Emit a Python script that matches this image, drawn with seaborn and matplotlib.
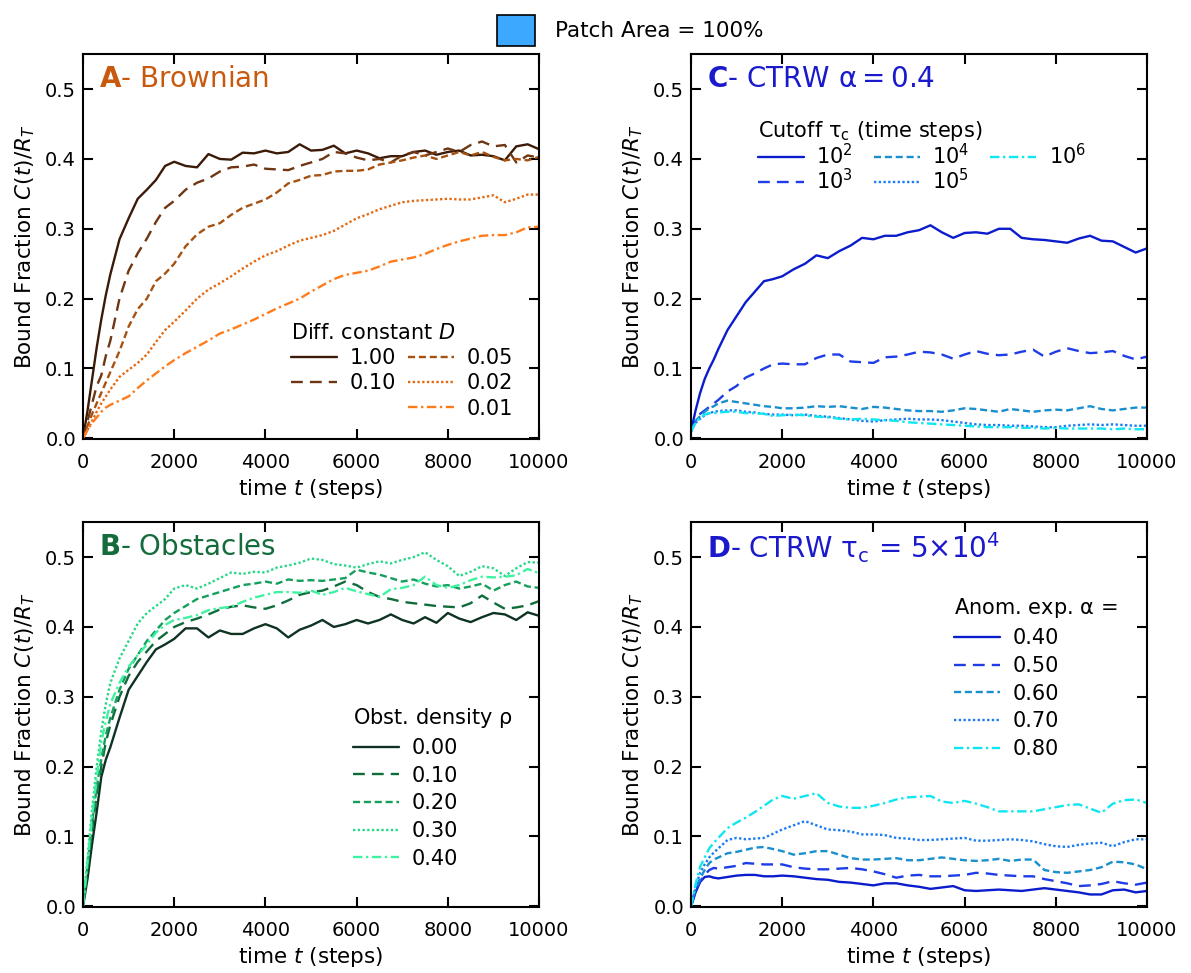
import matplotlib
matplotlib.use('Agg')
import matplotlib.pyplot as plt
import seaborn as sns
from matplotlib.lines import Line2D
from matplotlib.patches import Patch

# -----------------------------------------------------------------------------
# data
# -----------------------------------------------------------------------------
T = [0, 100, 200, 300, 400, 500, 600, 800, 1000, 1200, 1400, 1600, 1800, 2000,
     2250, 2500, 2750, 3000, 3250, 3500, 3750, 4000, 4250, 4500, 4750, 5000,
     5250, 5500, 5750, 6000, 6250, 6500, 6750, 7000, 7250, 7500, 7750, 8000,
     8250, 8500, 8750, 9000, 9250, 9500, 9750, 10000]

# Panel A - Brownian, diffusion constant D
brown_labels = ['1.00', '0.10', '0.05', '0.02', '0.01']
brown_100 = [0.0, 0.04, 0.085, 0.13, 0.17, 0.205, 0.235, 0.285, 0.315, 0.343, 0.356, 0.37, 0.39, 0.396,
             0.39, 0.388, 0.407, 0.400, 0.399, 0.409, 0.408, 0.412, 0.408, 0.41, 0.421, 0.412,
             0.413, 0.419, 0.408, 0.412, 0.408, 0.401, 0.404, 0.404, 0.41, 0.412, 0.406, 0.41,
             0.412, 0.405, 0.406, 0.404, 0.398, 0.418, 0.421, 0.414]
brown_010 = [0.0, 0.025, 0.05, 0.075, 0.09, 0.118, 0.14, 0.2, 0.24, 0.265, 0.286, 0.31, 0.33, 0.34,
             0.356, 0.366, 0.372, 0.382, 0.388, 0.389, 0.392, 0.386, 0.385, 0.384, 0.39, 0.395,
             0.40, 0.41, 0.408, 0.402, 0.398, 0.40, 0.395, 0.405, 0.41, 0.405, 0.41, 0.415,
             0.41, 0.42, 0.425, 0.418, 0.42, 0.395, 0.405, 0.402]
brown_005 = [0.0, 0.018, 0.035, 0.05, 0.065, 0.08, 0.095, 0.125, 0.16, 0.185, 0.2, 0.225, 0.236, 0.25,
             0.275, 0.292, 0.303, 0.308, 0.32, 0.33, 0.336, 0.342, 0.352, 0.365, 0.37, 0.376,
             0.377, 0.382, 0.383, 0.383, 0.385, 0.392, 0.395, 0.398, 0.402, 0.405, 0.40, 0.405,
             0.41, 0.405, 0.41, 0.403, 0.398, 0.40, 0.398, 0.403]
brown_002 = [0.0, 0.012, 0.025, 0.038, 0.05, 0.06, 0.07, 0.088, 0.098, 0.108, 0.12, 0.138, 0.155, 0.167,
             0.183, 0.2, 0.213, 0.222, 0.232, 0.243, 0.253, 0.262, 0.268, 0.276, 0.283, 0.287,
             0.291, 0.297, 0.306, 0.315, 0.321, 0.328, 0.333, 0.338, 0.34, 0.341, 0.342, 0.343,
             0.342, 0.342, 0.345, 0.348, 0.338, 0.343, 0.349, 0.349]
brown_001 = [0.0, 0.012, 0.022, 0.03, 0.038, 0.044, 0.048, 0.054, 0.06, 0.072, 0.083, 0.093, 0.103, 0.112,
             0.122, 0.131, 0.14, 0.15, 0.156, 0.163, 0.17, 0.178, 0.186, 0.193, 0.2, 0.21,
             0.219, 0.228, 0.234, 0.237, 0.24, 0.246, 0.253, 0.256, 0.259, 0.264, 0.271, 0.277,
             0.282, 0.286, 0.29, 0.291, 0.291, 0.295, 0.302, 0.303]

# Panel B - obstacles, density rho
obst_labels = ['0.00', '0.10', '0.20', '0.30', '0.40']
obst_000 = [0.0, 0.04, 0.09, 0.135, 0.185, 0.21, 0.228, 0.27, 0.31, 0.33, 0.35, 0.368, 0.375, 0.383,
            0.398, 0.398, 0.385, 0.395, 0.39, 0.39, 0.398, 0.404, 0.398, 0.385, 0.396, 0.402,
            0.41, 0.40, 0.404, 0.41, 0.405, 0.41, 0.418, 0.41, 0.405, 0.414, 0.406, 0.42,
            0.412, 0.407, 0.414, 0.42, 0.418, 0.41, 0.421, 0.416]
obst_010 = [0.0, 0.055, 0.11, 0.16, 0.2, 0.235, 0.26, 0.3, 0.33, 0.35, 0.365, 0.38, 0.39, 0.4,
            0.407, 0.412, 0.418, 0.425, 0.429, 0.431, 0.428, 0.426, 0.431, 0.438, 0.446, 0.45,
            0.452, 0.458, 0.465, 0.46, 0.45, 0.443, 0.44, 0.436, 0.434, 0.432, 0.43, 0.429,
            0.428, 0.434, 0.445, 0.435, 0.426, 0.428, 0.431, 0.437]
obst_020 = [0.0, 0.06, 0.12, 0.17, 0.21, 0.245, 0.27, 0.31, 0.34, 0.36, 0.38, 0.395, 0.41, 0.42,
            0.43, 0.44, 0.445, 0.45, 0.455, 0.46, 0.462, 0.465, 0.462, 0.468, 0.466, 0.467,
            0.466, 0.468, 0.47, 0.482, 0.478, 0.475, 0.47, 0.465, 0.468, 0.462, 0.458, 0.46,
            0.455, 0.458, 0.462, 0.452, 0.46, 0.465, 0.458, 0.456]
obst_030 = [0.0, 0.07, 0.14, 0.2, 0.25, 0.29, 0.32, 0.355, 0.38, 0.405, 0.42, 0.43, 0.44, 0.455,
            0.46, 0.455, 0.462, 0.47, 0.478, 0.476, 0.479, 0.478, 0.485, 0.488, 0.492, 0.498,
            0.496, 0.49, 0.488, 0.485, 0.49, 0.494, 0.491, 0.496, 0.5, 0.507, 0.496, 0.487,
            0.473, 0.479, 0.487, 0.484, 0.473, 0.484, 0.493, 0.492]
obst_040 = [0.0, 0.065, 0.13, 0.185, 0.235, 0.265, 0.29, 0.32, 0.343, 0.36, 0.375, 0.392, 0.403, 0.41,
            0.413, 0.417, 0.424, 0.427, 0.429, 0.436, 0.442, 0.446, 0.45, 0.45, 0.449, 0.452,
            0.446, 0.45, 0.456, 0.451, 0.447, 0.443, 0.454, 0.456, 0.46, 0.472, 0.46, 0.456,
            0.46, 0.467, 0.472, 0.471, 0.472, 0.474, 0.483, 0.477]

# Panel C - CTRW alpha = 0.4, cutoff tau_c
cut_labels = ['$10^2$', '$10^3$', '$10^4$', '$10^5$', '$10^6$']
cut_1e2 = [0.01, 0.04, 0.065, 0.085, 0.1, 0.113, 0.128, 0.155, 0.175, 0.195, 0.21, 0.225, 0.228, 0.232,
           0.242, 0.25, 0.262, 0.258, 0.268, 0.276, 0.287, 0.285, 0.29, 0.29, 0.295, 0.298,
           0.305, 0.295, 0.287, 0.294, 0.295, 0.293, 0.3, 0.3, 0.287, 0.285, 0.284, 0.282,
           0.28, 0.286, 0.29, 0.283, 0.282, 0.274, 0.266, 0.272]
cut_1e3 = [0.01, 0.025, 0.035, 0.04, 0.045, 0.05, 0.055, 0.067, 0.075, 0.087, 0.093, 0.1, 0.106, 0.107,
           0.106, 0.106, 0.115, 0.12, 0.12, 0.11, 0.109, 0.108, 0.116, 0.117, 0.12, 0.124,
           0.123, 0.12, 0.114, 0.12, 0.125, 0.121, 0.119, 0.12, 0.124, 0.127, 0.117, 0.124,
           0.129, 0.125, 0.122, 0.123, 0.125, 0.118, 0.113, 0.117]
cut_1e4 = [0.01, 0.025, 0.032, 0.038, 0.043, 0.046, 0.05, 0.054, 0.052, 0.05, 0.048, 0.046, 0.045, 0.043,
           0.043, 0.044, 0.046, 0.045, 0.046, 0.044, 0.042, 0.045, 0.044, 0.042, 0.04, 0.039,
           0.039, 0.038, 0.04, 0.043, 0.042, 0.04, 0.038, 0.042, 0.04, 0.038, 0.04, 0.041,
           0.04, 0.043, 0.046, 0.042, 0.04, 0.042, 0.044, 0.044]
cut_1e5 = [0.01, 0.022, 0.028, 0.033, 0.036, 0.038, 0.039, 0.04, 0.04, 0.038, 0.037, 0.035, 0.034, 0.034,
           0.033, 0.034, 0.032, 0.031, 0.029, 0.027, 0.025, 0.024, 0.026, 0.027, 0.028, 0.027,
           0.027, 0.026, 0.024, 0.022, 0.02, 0.019, 0.019, 0.018, 0.018, 0.017, 0.016, 0.016,
           0.018, 0.019, 0.02, 0.019, 0.02, 0.019, 0.018, 0.018]
cut_1e6 = [0.01, 0.022, 0.03, 0.034, 0.036, 0.036, 0.037, 0.038, 0.038, 0.036, 0.036, 0.035, 0.032, 0.033,
           0.034, 0.033, 0.031, 0.03, 0.028, 0.027, 0.028, 0.027, 0.026, 0.025, 0.023, 0.022,
           0.021, 0.02, 0.019, 0.018, 0.017, 0.016, 0.016, 0.016, 0.015, 0.015, 0.014, 0.015,
           0.014, 0.014, 0.014, 0.014, 0.013, 0.014, 0.013, 0.013]

# Panel D - CTRW tau_c = 5e4, anomalous exponent alpha
anom_labels = ['0.40', '0.50', '0.60', '0.70', '0.80']
anom_040 = [0.0, 0.02, 0.035, 0.042, 0.043, 0.041, 0.04, 0.042, 0.044, 0.045, 0.045, 0.043, 0.043, 0.044,
            0.043, 0.041, 0.039, 0.038, 0.035, 0.034, 0.032, 0.03, 0.033, 0.033, 0.03, 0.028,
            0.025, 0.027, 0.029, 0.023, 0.022, 0.023, 0.024, 0.023, 0.022, 0.024, 0.026, 0.024,
            0.022, 0.02, 0.017, 0.017, 0.023, 0.024, 0.02, 0.022]
anom_050 = [0.0, 0.022, 0.036, 0.045, 0.052, 0.055, 0.054, 0.056, 0.058, 0.062, 0.061, 0.06, 0.06, 0.06,
            0.056, 0.054, 0.053, 0.053, 0.054, 0.055, 0.053, 0.05, 0.046, 0.041, 0.044, 0.045,
            0.043, 0.043, 0.044, 0.045, 0.048, 0.047, 0.045, 0.044, 0.043, 0.043, 0.039, 0.036,
            0.033, 0.029, 0.03, 0.032, 0.036, 0.033, 0.031, 0.034]
anom_060 = [0.0, 0.025, 0.04, 0.052, 0.062, 0.067, 0.07, 0.076, 0.078, 0.081, 0.084, 0.085, 0.082, 0.079,
            0.074, 0.076, 0.079, 0.079, 0.074, 0.069, 0.067, 0.067, 0.068, 0.069, 0.066, 0.066,
            0.068, 0.07, 0.068, 0.066, 0.065, 0.066, 0.068, 0.065, 0.067, 0.067, 0.052, 0.049,
            0.048, 0.05, 0.052, 0.056, 0.064, 0.063, 0.06, 0.053]
anom_070 = [0.0, 0.028, 0.048, 0.06, 0.07, 0.077, 0.083, 0.095, 0.098, 0.096, 0.097, 0.098, 0.104, 0.11,
            0.116, 0.122, 0.116, 0.11, 0.109, 0.107, 0.103, 0.103, 0.102, 0.098, 0.097, 0.095,
            0.095, 0.096, 0.097, 0.098, 0.094, 0.094, 0.095, 0.096, 0.095, 0.093, 0.089, 0.086,
            0.085, 0.088, 0.09, 0.091, 0.086, 0.092, 0.096, 0.096]
anom_080 = [0.0, 0.032, 0.057, 0.07, 0.083, 0.091, 0.098, 0.112, 0.12, 0.127, 0.135, 0.144, 0.153, 0.158,
            0.154, 0.158, 0.162, 0.148, 0.143, 0.141, 0.141, 0.144, 0.148, 0.153, 0.156, 0.157,
            0.158, 0.15, 0.148, 0.151, 0.147, 0.142, 0.136, 0.136, 0.136, 0.136, 0.139, 0.142,
            0.145, 0.146, 0.14, 0.134, 0.147, 0.152, 0.153, 0.148]

# -----------------------------------------------------------------------------
# styles
# -----------------------------------------------------------------------------
STYLES = ['-', (0, (5, 3)), (0, (3, 1.6)), (0, (1, 1)), (0, (4, 1.5, 1, 1.5))]
BROWN_COLS = ['#3b1a07', '#6e3612', '#a6510f', '#e36a12', '#ff7b1c']
GREEN_COLS = ['#0e3322', '#0f6d3c', '#14a05c', '#27d987', '#3ef2a2']
BLUE_COLS = ['#0b1ccc', '#1e3ce8', '#1a8fcf', '#1b7cf2', '#10e6f2']

sns.set_style('ticks')
plt.rcParams['font.family'] = ['DejaVu Sans']
plt.rcParams['xtick.direction'] = 'in'
plt.rcParams['ytick.direction'] = 'in'
plt.rcParams['xtick.top'] = True
plt.rcParams['ytick.right'] = True
plt.rcParams['xtick.major.size'] = 7
plt.rcParams['ytick.major.size'] = 7
plt.rcParams['xtick.major.width'] = 1.5
plt.rcParams['ytick.major.width'] = 1.5
plt.rcParams['axes.linewidth'] = 1.5
plt.rcParams['axes.edgecolor'] = 'black'
plt.rcParams['text.color'] = 'black'
plt.rcParams['axes.labelcolor'] = 'black'
plt.rcParams['mathtext.fontset'] = 'dejavusans'

fig = plt.figure(figsize=(11.91, 9.73), dpi=100)
W, H = 0.3829, 0.3955
ax_a = fig.add_axes([0.0697, 0.5488, W, H])
ax_c = fig.add_axes([0.5802, 0.5488, W, H])
ax_b = fig.add_axes([0.0697, 0.0678, W, H])
ax_d = fig.add_axes([0.5802, 0.0678, W, H])


def draw_panel(ax, series, labels, colors, title, title_col):
    for vals, lab, col, ls in zip(series, labels, colors, STYLES):
        sns.lineplot(x=T, y=vals, ax=ax, color=col, linestyle=ls, lw=1.7, label=lab)
    ax.set_xlim(0, 10000)
    ax.set_ylim(-0.001, 0.55)
    ax.set_xticks([0, 2000, 4000, 6000, 8000, 10000])
    ax.set_yticks([0.0, 0.1, 0.2, 0.3, 0.4, 0.5])
    ax.tick_params(axis='x', labelsize=14, pad=10, colors='black')
    ax.tick_params(axis='y', labelsize=14, pad=5, colors='black')
    ax.set_xlabel('time $t$ (steps)', fontsize=15.5, labelpad=4)
    ax.set_ylabel('Bound Fraction $C(t)/R_T$', fontsize=15.5, labelpad=6)
    ax.text(0.035, 0.935, title, transform=ax.transAxes, fontsize=20,
            color=title_col, va='center', ha='left')


draw_panel(ax_a, [brown_100, brown_010, brown_005, brown_002, brown_001],
           brown_labels, BROWN_COLS, r'$\mathbf{A}$- Brownian', '#c85a10')
draw_panel(ax_b, [obst_000, obst_010, obst_020, obst_030, obst_040],
           obst_labels, GREEN_COLS, r'$\mathbf{B}$- Obstacles', '#146b3c')
draw_panel(ax_c, [cut_1e2, cut_1e3, cut_1e4, cut_1e5, cut_1e6],
           cut_labels, BLUE_COLS, r'$\mathbf{C}$- CTRW $\mathregular{\alpha = 0.4}$', '#1a1acc')
draw_panel(ax_d, [anom_040, anom_050, anom_060, anom_070, anom_080],
           anom_labels, BLUE_COLS, r'$\mathbf{D}$- CTRW $\mathregular{\tau_c}$ = 5$\times$10$^4$', '#1a1acc')

leg_kw = dict(frameon=False, fontsize=15, title_fontsize=15, handlelength=2.2,
              handletextpad=0.6, borderpad=0.2, alignment='left')

# A: two columns, 2 + 3 entries
h, l = ax_a.get_legend_handles_labels()
blank = Line2D([], [], color='none')
h = h[:2] + [blank] + h[2:]
l = l[:2] + [''] + l[2:]
ax_a.legend(h, l, ncol=2, loc='lower right', bbox_to_anchor=(0.975, 0.015),
            title='Diff. constant $D$', columnspacing=0.6, labelspacing=0.25, **leg_kw)

h, l = ax_c.get_legend_handles_labels()
ax_c.legend(h, l, ncol=3, loc='upper left', bbox_to_anchor=(0.115, 0.87),
            title=r'Cutoff $\mathregular{\tau_c}$ (time steps)', columnspacing=1.0,
            labelspacing=0.0, **leg_kw)

h, l = ax_b.get_legend_handles_labels()
ax_b.legend(h, l, loc='upper left', bbox_to_anchor=(0.56, 0.56),
            title=r'Obst. density $\mathregular{\rho}$', labelspacing=0.37, **leg_kw)

h, l = ax_d.get_legend_handles_labels()
ax_d.legend(h, l, loc='upper left', bbox_to_anchor=(0.545, 0.845),
            title=r'Anom. exp. $\mathregular{\alpha}$ =', labelspacing=0.37, **leg_kw)

# figure-level legend: patch area
fig.legend(handles=[Patch(facecolor='#3ca8ff', edgecolor='black', lw=1.2)],
           labels=['Patch Area = 100%'], loc='upper center', bbox_to_anchor=(0.529, 1.0),
           frameon=False, fontsize=15.5, handlelength=1.8, handleheight=1.8, handletextpad=0.9,
           borderaxespad=0.3)

fig.savefig('out.png', dpi=100)
plt.close(fig)
